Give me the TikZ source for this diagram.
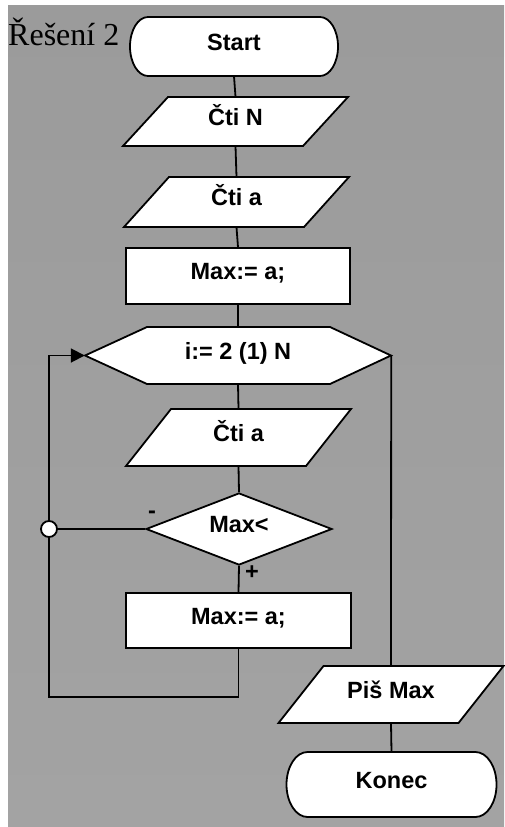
\documentclass[tikz,border=0pt]{standalone}
\usepackage{fontspec}
\setmainfont{Liberation Sans}
\newfontfamily\titlefont{Liberation Serif}
\usetikzlibrary{shapes.geometric,arrows.meta}
\definecolor{bgtop}{HTML}{9B9B9B}
\definecolor{bgbot}{HTML}{A3A3A3}
\newcommand\ioshape[5]{%
  \draw[shapeline] ({#2-67.5},{#3-#4/2}) -- ({#2+112.5},{#3-#4/2}) -- ({#2+67.5},{#3+#4/2}) -- ({#2-112.5},{#3+#4/2}) -- cycle;
  \node[textonly, minimum height=#4pt, minimum width=180pt] (#1) at (#2,#3) {#5};}
\begin{document}
\begin{tikzpicture}[x=1pt,y=-1pt,
  shapeline/.style={draw=black,line width=1.8pt,fill=white,line join=miter},
  conn/.style={draw=black,line width=1.8pt},
  lbl/.style={font=\fontsize{23.5}{27}\selectfont\bfseries, text height=0.72em, text depth=0pt, inner sep=0pt},
  procbox/.style={shapeline,lbl,rectangle},
  textonly/.style={lbl,rectangle,draw=none,fill=none},
  signlbl/.style={font=\fontsize{23.5}{27}\selectfont\bfseries, inner sep=0pt},
]
\useasboundingbox (0,0) rectangle (504,827);
\fill[white] (0,0) rectangle (504,827);
\shade[top color=bgtop, middle color=white, bottom color=bgbot] (8,5) rectangle (504,826);

\node[font=\titlefont\fontsize{32}{32}\selectfont, anchor=base west, inner sep=0pt] (title) at (8,45) {Řešení 2};

% Start terminal
\draw[shapeline] (148,17) -- (320,17) arc[start angle=90,end angle=-90,x radius=18pt,y radius=29.5pt] -- (148,76) arc[start angle=-90,end angle=-270,x radius=18pt,y radius=29.5pt] -- cycle;
\node[textonly, minimum width=208pt, minimum height=59pt] (start) at (234,46.5) {Start};

\ioshape{ctin}{235.5}{121.5}{49}{Čti N}
\ioshape{ctia}{236.5}{202}{50}{Čti a}
\node[procbox, minimum width=224pt, minimum height=56pt] (max1) at (238,276) {Max:= a;};

% loop hexagon
\draw[shapeline] (85,355.5) -- (147,327) -- (330,327) -- (391,355.5) -- (330,384) -- (147,384) -- cycle;
\node[textonly, minimum width=306pt, minimum height=57pt] (hex) at (238,355.5) {i:= 2 (1) N};

\ioshape{ctia2}{238.5}{437.5}{57}{Čti a}
\node[lbl, shapeline, diamond, shape aspect=2.6, minimum width=186pt, minimum height=72pt] (dia) at (239,529) {Max<};
\node[procbox, minimum width=225pt, minimum height=55pt] (max2) at (238.5,620.5) {Max:= a;};

\ioshape{pis}{391}{694.5}{57}{Piš Max}

% End terminal
\draw[shapeline] (307.5,752) -- (475.5,752) arc[start angle=90,end angle=-90,x radius=21pt,y radius=32.5pt] -- (307.5,817) arc[start angle=-90,end angle=-270,x radius=21pt,y radius=32.5pt] -- cycle;
\node[textonly, minimum width=210pt, minimum height=65pt] (konec) at (391.5,784.5) {Konec};

\node[signlbl] (minus) at (152,514.5) {-};
\node[signlbl] (plus) at (252,572.5) {+};

% connectors
\draw[conn] (start.south) -- (ctin.north);
\draw[conn] (ctin.south) -- (ctia.north);
\draw[conn] (ctia.south) -- (max1.north);
\draw[conn] (max1.south) -- (hex.north);
\draw[conn] (hex.south) -- (ctia2.north);
\draw[conn] (ctia2.south) -- (dia.north);
\draw[conn] (dia.south) -- (max2.north);
\draw[conn] (hex.east) -- (pis.north);
\draw[conn] (pis.south) -- (konec.north);

\node[circle, draw=black, fill=white, line width=1.8pt, minimum size=16pt, inner sep=0pt] (circ) at (49,529) {};
\coordinate (lb) at (49,697);
\draw[conn] (max2.south) |- (lb) -- (circ.south);
\draw[conn, -{Triangle[length=14pt,width=14pt]}] (circ.north) |- (hex.west);
\draw[conn] (dia.west) -- (circ.east);
\end{tikzpicture}
\end{document}
